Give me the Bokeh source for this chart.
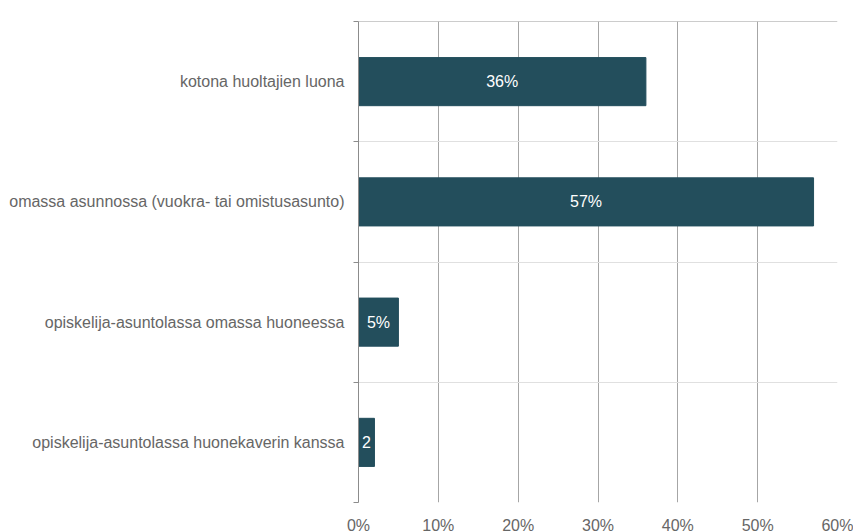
from bokeh.plotting import figure
from bokeh.models import Range1d, FixedTicker, PrintfTickFormatter, Span, ColumnDataSource
from bokeh.core.properties import value
from bokeh.embed import file_html
from bokeh.resources import INLINE

categories = [
    "kotona huoltajien luona",
    "omassa asunnossa (vuokra- tai omistusasunto)",
    "opiskelija-asuntolassa omassa huoneessa",
    "opiskelija-asuntolassa huonekaverin kanssa",
]
values = [36, 57, 5, 2]
bar_labels = ["36%", "57%", "5%", "2"]
x_ticks = [0, 10, 20, 30, 40, 50, 60]

n = len(categories)
ypos = [n - i - 0.5 for i in range(n)]
source = ColumnDataSource(dict(
    y=ypos, v=values, half=[v / 2 for v in values], lab=bar_labels, cat=categories,
))

FONT = "Liberation Sans"
p = figure(
    frame_width=479, frame_height=481,
    x_range=Range1d(0, 60), y_range=Range1d(0, n),
    output_backend="svg", toolbar_location=None,
    min_border_left=358, min_border_right=16, min_border_top=21, min_border_bottom=14,
)
p.outline_line_color = None
p.background_fill_color = "white"
p.border_fill_color = "white"

p.hbar(y="y", right="v", left=0, height=0.4, color="#234e5c", source=source)
p.text(x="half", y="y", text="lab", source=source, text_color="white",
       text_align="center", text_baseline="middle", text_font=value(FONT),
       text_font_size="16px")

# x axis
p.xaxis.ticker = FixedTicker(ticks=x_ticks)
p.xaxis.formatter = PrintfTickFormatter(format="%d%%")
p.xaxis.axis_line_color = None
p.xaxis.major_tick_line_color = None
p.xaxis.minor_tick_line_color = None
p.xaxis.major_tick_out = 0
p.xaxis.major_tick_in = 0
p.xaxis.major_label_standoff = 14
p.xaxis.major_label_text_font = FONT
p.xaxis.major_label_text_font_size = "16px"
p.xaxis.major_label_text_color = "#666666"

# y axis
p.yaxis.ticker = FixedTicker(ticks=ypos, minor_ticks=list(range(n + 1)))
p.yaxis.major_label_overrides = {y: c for y, c in zip(ypos, categories)}
p.yaxis.axis_line_color = "#8c8c8c"
p.yaxis.major_tick_line_color = None
p.yaxis.major_tick_out = 0
p.yaxis.major_tick_in = 0
p.yaxis.minor_tick_line_color = "#8c8c8c"
p.yaxis.minor_tick_out = 5
p.yaxis.minor_tick_in = 0
p.yaxis.major_label_standoff = 9
p.yaxis.major_label_text_font = FONT
p.yaxis.major_label_text_font_size = "16px"
p.yaxis.major_label_text_color = "#666666"

p.xgrid.grid_line_color = "#a6a6a6"
p.ygrid.grid_line_color = None
p.ygrid.minor_grid_line_color = "#e0e0e0"

p.add_layout(Span(location=n, dimension="width", line_color="#9a9a9a", line_width=1))

open("out.html", "w").write(file_html(p, INLINE))
